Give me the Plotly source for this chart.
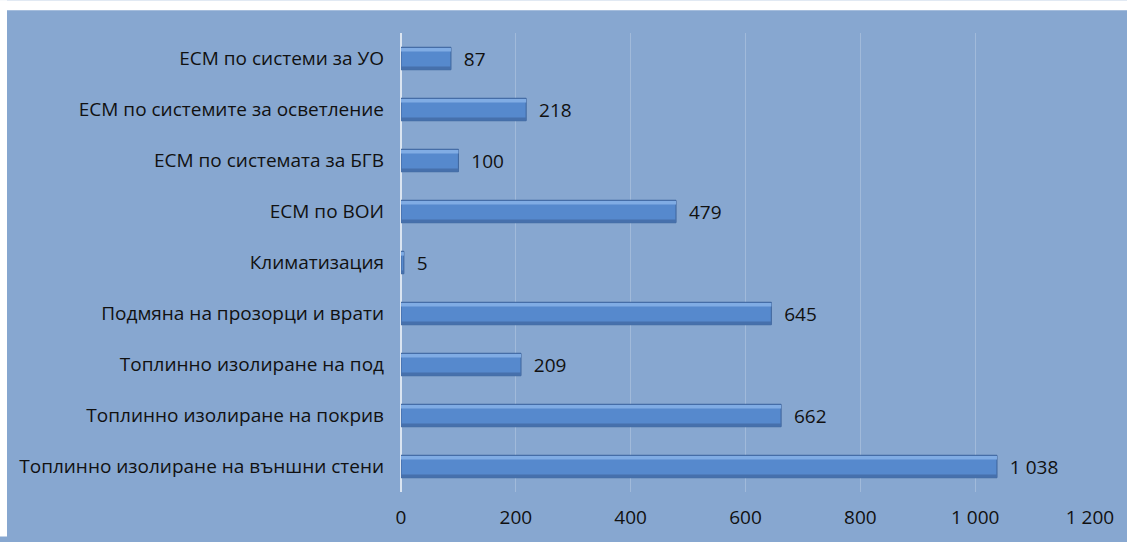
import plotly.graph_objects as go

categories = [
    "Топлинно изолиране на външни стени",
    "Топлинно изолиране на покрив",
    "Топлинно изолиране на под",
    "Подмяна на прозорци и врати",
    "Климатизация",
    "ЕСМ по ВОИ",
    "ЕСМ по системата за БГВ",
    "ЕСМ по системите за осветление",
    "ЕСМ по системи за УО",
]
values = [1038, 662, 209, 645, 5, 479, 100, 218, 87]
x_ticks = [0, 200, 400, 600, 800, 1000, 1200]

BG = "rgb(135,167,208)"
W, H = 1127, 542
L, T = 401, 33
pw, ph = 689, 464
R, B = W - L - pw, H - T - ph

fig = go.Figure()
# main bar body
fig.add_trace(go.Bar(
    y=categories, x=values, orientation="h", width=0.44, offset=-0.22,
    marker=dict(color="rgb(86,137,205)", line=dict(color="rgb(62,100,155)", width=1)),
    texttemplate="  %{x:,}", textposition="outside", cliponaxis=False,
    constraintext="none",
    textfont=dict(family="Open Sans", size=19, color="#111111"),
    hoverinfo="skip",
))
# highlight strip (upper part)
fig.add_trace(go.Bar(
    y=categories, x=values, orientation="h", width=0.07, offset=0.135,
    marker=dict(color="rgb(128,172,228)", line=dict(width=0)),
    hoverinfo="skip",
))
# shadow strip (lower part)
fig.add_trace(go.Bar(
    y=categories, x=values, orientation="h", width=0.06, offset=-0.215,
    marker=dict(color="rgb(70,112,172)", line=dict(width=0)),
    hoverinfo="skip",
))

# white borders at left and top of the chart
fig.add_shape(type="rect", xref="paper", yref="paper", layer="below",
              x0=-L / pw, x1=(7 - L) / pw, y0=-B / ph, y1=1 + T / ph,
              fillcolor="white", line=dict(width=0))
fig.add_shape(type="rect", xref="paper", yref="paper", layer="below",
              x0=-L / pw, x1=(W - L) / pw, y0=1 + (T - 10) / ph, y1=1 + T / ph,
              fillcolor="white", line=dict(width=0))

fig.update_layout(
    width=W, height=H,
    margin=dict(l=L, r=R, t=T, b=B),
    paper_bgcolor=BG, plot_bgcolor=BG,
    separators=", ",
    showlegend=False,
    barmode="overlay",
    font=dict(family="Open Sans", size=19, color="#111111"),
    xaxis=dict(range=[0, 1200], tickvals=x_ticks, tickformat=",",
               showgrid=True, gridcolor="rgba(255,255,255,0.22)", gridwidth=1,
               zeroline=True, zerolinecolor="rgba(255,255,255,0.7)", zerolinewidth=2,
               showline=False, ticklabelstandoff=12, fixedrange=True),
    yaxis=dict(showgrid=False, ticklabelstandoff=16, fixedrange=True),
)

fig.write_html(
    "out.html",
    config={"displayModeBar": False, "staticPlot": True},
    post_script=(
        "document.body.style.margin='0';"
        "document.body.style.overflow='hidden';"
        "document.documentElement.style.overflow='hidden';"
    ),
)
